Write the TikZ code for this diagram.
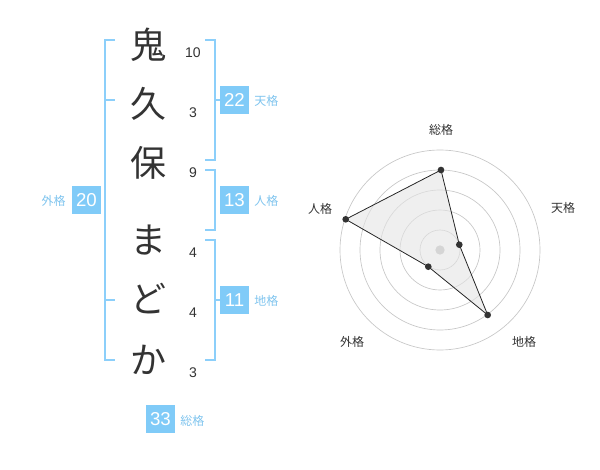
\documentclass[tikz,border=0pt]{standalone}
\usepackage{fontspec}
\setmainfont{Noto Sans CJK JP}
\newfontfamily\numfont{Liberation Sans}
\definecolor{br}{HTML}{8CCFFA}
\definecolor{bx}{HTML}{80CBF8}
\definecolor{lb}{HTML}{7FC4EE}
\definecolor{ink}{HTML}{333333}
\begin{document}
\begin{tikzpicture}[x=0.75pt,y=-0.75pt,
  kj/.style={font=\fontsize{27}{27}\selectfont,text=ink,inner sep=0},
  num/.style={font=\numfont\fontsize{10.5}{11}\selectfont,text=ink,inner sep=0},
  brk/.style={draw=br,line width=1.5pt},
  bxn/.style={fill=bx,text=white,font=\numfont\fontsize{14}{14}\selectfont,minimum width=21.75pt,minimum height=21pt,inner sep=0},
  lab/.style={text=lb,font=\fontsize{9}{9}\selectfont,inner sep=0},
  rl/.style={text=ink,font=\fontsize{9}{9}\selectfont,inner sep=0},
  ring/.style={draw=black!22,line width=0.5pt},
  dot/.style={circle,fill=ink,minimum size=5pt,inner sep=0}]
\useasboundingbox (0,0) rectangle (600,470);
% characters
\node[kj] (c1) at (148,45) {鬼};
\node[kj] (c2) at (148,104) {久};
\node[kj] (c3) at (148,163) {保};
\node[kj] (c4) at (148,240) {ま};
\node[kj] (c5) at (148,299) {ど};
\node[kj] (c6) at (148,360) {か};
\node[num] (n1) at (193,53) {10};
\node[num] (n2) at (193,113) {3};
\node[num] (n3) at (193,173) {9};
\node[num] (n4) at (193,253) {4};
\node[num] (n5) at (193,313) {4};
\node[num] (n6) at (193,373) {3};
% brackets
\draw[brk] (115,40) -- (105,40) -- (105,360) -- (115,360);
\draw[brk] (105,100) -- (115,100);
\draw[brk] (105,300) -- (115,300);
\draw[brk] (205,40) -- (215,40) -- (215,160) -- (205,160);
\draw[brk] (215,100) -- (225,100);
\draw[brk] (205,170) -- (215,170) -- (215,230) -- (205,230);
\draw[brk] (205,240) -- (215,240) -- (215,360) -- (205,360);
\draw[brk] (215,300) -- (225,300);
% boxes
\node[bxn] (b22) at (234.5,100) {22};
\node[lab,anchor=west] (l22) at (254,101) {天格};
\node[bxn] (b13) at (234.5,200) {13};
\node[lab,anchor=west] (l13) at (254,201) {人格};
\node[bxn] (b11) at (234.5,300) {11};
\node[lab,anchor=west] (l11) at (254,301) {地格};
\node[bxn] (b20) at (86.5,200) {20};
\node[lab,anchor=east] (l20) at (66,201) {外格};
\node[bxn] (b33) at (160.5,419) {33};
\node[lab,anchor=west] (l33) at (180,421) {総格};
% radar
\coordinate (o) at (440,250);
\foreach \r in {20,40,60,80,100} \draw[ring] (o) circle[radius=\r*0.75pt];
\fill[black!25] (o) circle[radius=3.5pt];
\coordinate (p1) at (441,170);
\coordinate (p2) at (459.3,244.7);
\coordinate (p3) at (487.7,315);
\coordinate (p4) at (428.3,266.7);
\coordinate (p5) at (345.7,219.3);
\filldraw[fill=black!10,fill opacity=0.6,draw=black!85,line width=0.6pt] (p1)--(p2)--(p3)--(p4)--(p5)--cycle;
\foreach \p in {p1,p2,p3,p4,p5} \node[dot] at (\p) {};
\node[rl] (r1) at (441,130) {総格};
\node[rl] (r2) at (563,208) {天格};
\node[rl] (r3) at (524,342) {地格};
\node[rl] (r4) at (352,342) {外格};
\node[rl] (r5) at (320,209) {人格};
\end{tikzpicture}
\end{document}
